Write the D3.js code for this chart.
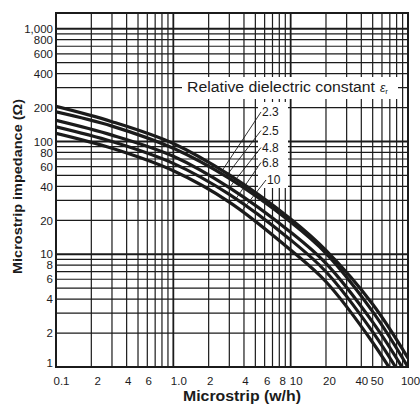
<!DOCTYPE html>
<html>
<head>
<meta charset="utf-8">
<script src="https://cdn.jsdelivr.net/npm/d3@7"></script>
<style>
  body { margin: 0; background: #fff; }
  svg { font-family: "Liberation Sans", Arial, sans-serif; }
</style>
</head>
<body>
<div id="chart"></div>
<script>
// w/h sample points
const widthRatio = [0.1, 0.3, 1, 3, 10, 20, 50, 100];
// impedance (ohm) for each dielectric constant
const dielectric = ["2.3", "2.5", "4.8", "6.8", "10"];
const z23 = [205, 150, 96, 50.5, 20.5, 10.8, 3.6, 1.2];
const z25 = [183, 137, 87, 47, 19.3, 10.2, 3.1, 1.0];
const z48 = [154, 114, 74, 39, 15.7, 8.3, 2.5, 0.82];
const z68 = [135, 100, 64, 34, 13.4, 7.0, 2.05, 0.66];
const z10 = [118, 87, 55, 29, 10.9, 5.7, 1.65, 0.53];
// where each leader line touches its curve (w/h)
const leaderAt = [2.6, 2.8, 3.0, 3.4, 3.8];

const xTickValues = [0.1, 0.2, 0.4, 0.6, 1, 2, 4, 6, 8, 10, 20, 40, 50, 100];
const xTickLabels = ["0.1", "2", "4", "6", "1.0", "2", "4", "6", "8", "10", "20", "40", "50", "100"];
const yTickValues = [1000, 800, 600, 400, 200, 100, 80, 60, 40, 20, 10, 8, 6, 4, 2, 1];
const yTickLabels = ["1,000", "800", "600", "400", "200", "100", "80", "60", "40", "20", "10", "8", "6", "4", "2", "1"];

const series = [z23, z25, z48, z68, z10];

const W = 420, H = 407;
const svg = d3.select("#chart").append("svg")
    .attr("width", W)
    .attr("height", H);

const x = d3.scaleLog().domain([0.1, 100]).range([56, 408]);
const y = d3.scaleLog().domain([1, 1380]).range([367, 13]);
const ink = "#1b1b1b";

// grid: every 1..9 multiple on both axes
let xGrid = [], yGrid = [];
for (let d = 0.1; d < 100; d *= 10) for (let m = 1; m < 10; m++) xGrid.push(+(d * m).toPrecision(3));
for (let d = 1; d < 1000; d *= 10) for (let m = 1; m < 10; m++) yGrid.push(+(d * m).toPrecision(3));
yGrid.push(1000);

const grid = svg.append("g");
grid.selectAll("line.v").data(xGrid).enter().append("line")
    .attr("x1", d => x(d)).attr("x2", d => x(d))
    .attr("y1", y.range()[1]).attr("y2", y.range()[0])
    .attr("stroke", ink)
    .attr("stroke-width", d => [1, 10].includes(d) ? 1.8 : 1.2);
grid.selectAll("line.h").data(yGrid).enter().append("line")
    .attr("x1", x.range()[0]).attr("x2", x.range()[1])
    .attr("y1", d => y(d)).attr("y2", d => y(d))
    .attr("stroke", ink)
    .attr("stroke-width", d => [10, 100, 1000].includes(d) ? 1.8 : 1.2);

// white patches the printed chart keeps clear of grid
svg.append("rect").attr("x", 182).attr("y", 77).attr("width", 216).attr("height", 22).attr("fill", "#fff");
svg.append("rect").attr("x", 258).attr("y", 102).attr("width", 30).attr("height", 86).attr("fill", "#fff");

// frame
svg.append("rect")
    .attr("x", x.range()[0]).attr("y", y.range()[1])
    .attr("width", x.range()[1] - x.range()[0])
    .attr("height", y.range()[0] - y.range()[1])
    .attr("fill", "none").attr("stroke", ink).attr("stroke-width", 2);

svg.append("clipPath").attr("id", "plot").append("rect")
    .attr("x", x.range()[0]).attr("y", y.range()[1])
    .attr("width", x.range()[1] - x.range()[0])
    .attr("height", y.range()[0] - y.range()[1]);

const line = d3.line()
    .x((d, i) => x(widthRatio[i]))
    .y(d => y(d))
    .curve(d3.curveCatmullRom.alpha(0.5));

svg.append("g").attr("clip-path", "url(#plot)")
    .selectAll("path").data(series).enter().append("path")
    .attr("d", line)
    .attr("fill", "none")
    .attr("stroke", ink)
    .attr("stroke-width", 3.2);

// axes tick labels (printed labels sit a little right of their lines)
const xShift = [5, 6, 1, 1, 5, 1, 1, 2, 3, 5, 3, 0, 4, 2];
const xAxis = d3.axisBottom(x).tickValues(xTickValues)
    .tickFormat((d, i) => xTickLabels[i]).tickSize(0).tickPadding(10);
svg.append("g").attr("transform", `translate(0,${y.range()[0]})`).call(xAxis)
    .call(g => g.select(".domain").remove())
    .selectAll("text").attr("font-size", 11.5).attr("fill", ink)
    .attr("dx", (d, i) => xShift[i])
    .attr("font-family", "Liberation Sans, Arial, sans-serif");

const yAxis = d3.axisLeft(y).tickValues(yTickValues)
    .tickFormat((d, i) => yTickLabels[i]).tickSize(0).tickPadding(3);
svg.append("g").attr("transform", `translate(${x.range()[0]},0)`).call(yAxis)
    .call(g => g.select(".domain").remove())
    .selectAll("text").attr("font-size", 11.5).attr("fill", ink)
    .attr("dy", d => d === 1 ? "-0.05em" : "0.32em")
    .attr("font-family", "Liberation Sans, Arial, sans-serif");

// axis titles
svg.append("text")
    .attr("x", 183).attr("y", 401)
    .attr("font-size", 14).attr("font-weight", "bold").attr("fill", ink)
    .attr("textLength", 118).attr("lengthAdjust", "spacingAndGlyphs")
    .text("Microstrip (w/h)");
svg.append("text")
    .attr("transform", "translate(22,274) rotate(-90)")
    .attr("font-size", 13.5).attr("font-weight", "bold").attr("fill", ink)
    .attr("textLength", 175).attr("lengthAdjust", "spacingAndGlyphs")
    .text("Microstrip impedance (Ω)");

// legend
svg.append("text")
    .attr("x", 187).attr("y", 92)
    .attr("font-size", 14).attr("fill", ink)
    .attr("textLength", 188).attr("lengthAdjust", "spacingAndGlyphs")
    .text("Relative dielectric constant");
const eps = svg.append("text")
    .attr("x", 380).attr("y", 92)
    .attr("font-size", 12).attr("fill", ink);
eps.append("tspan").attr("font-style", "italic").text("ε");
eps.append("tspan").attr("font-size", 8).attr("dy", 2).text("r");

const labelY = [116, 134.5, 151.5, 166.5, 184];
const labelX = [262, 262, 262, 262, 267];

// log-log interpolation to place leader ends on a curve
function zAt(vals, w) {
    const i = d3.bisectLeft(widthRatio, w) - 1;
    const t = (Math.log(w) - Math.log(widthRatio[i])) / (Math.log(widthRatio[i + 1]) - Math.log(widthRatio[i]));
    return Math.exp(Math.log(vals[i]) + t * (Math.log(vals[i + 1]) - Math.log(vals[i])));
}

dielectric.forEach((lab, i) => {
    svg.append("line")
        .attr("x1", labelX[i] - 1).attr("y1", labelY[i] - 4)
        .attr("x2", x(leaderAt[i])).attr("y2", y(zAt(series[i], leaderAt[i])))
        .attr("stroke", ink).attr("stroke-width", 0.9);
    svg.append("text")
        .attr("x", labelX[i]).attr("y", labelY[i])
        .attr("font-size", 12).attr("fill", ink)
        .text(lab);
});
</script>
</body>
</html>
